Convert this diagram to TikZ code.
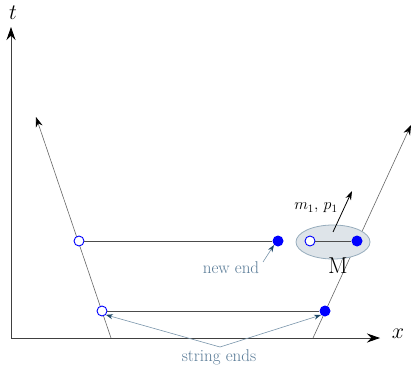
\RequirePackage{fix-cm}
\documentclass[tikz,border=0pt]{standalone}
\usepackage{fontspec}
\usepackage{tikz}
\usepackage{xcolor}
\usetikzlibrary{arrows.meta}

\definecolor{labelblue}{RGB}{88,122,150}
\definecolor{tipblue}{RGB}{30,72,104}
\definecolor{blobgray}{RGB}{222,228,233}
\definecolor{blobedge}{RGB}{150,172,188}

\tikzset{
  openend/.style={circle,draw=blue,fill=white,line width=0.9pt,minimum size=10pt,inner sep=0pt},
  fullend/.style={circle,fill=blue,minimum size=11pt,inner sep=0pt},
  worldline/.style={draw=black!60,line width=0.6pt},
  strline/.style={draw=black!70,line width=1pt},
  pointer/.style={draw=labelblue!80,line width=0.6pt,-{Stealth[length=7pt,width=5pt,color=tipblue]}},
  tag/.style={text=labelblue,font=\fontsize{17}{19}\selectfont}
}

\begin{document}
\begin{tikzpicture}[x=1pt,y=-1pt]
\useasboundingbox (0,0) rectangle (411,366);

% Axes
\coordinate (O) at (11,338);
\coordinate (tend) at (11,27);
\coordinate (xend) at (380,338);
\draw[black!75,line width=0.8pt,-{Stealth[length=13pt,width=9pt,color=black]}] (O) -- (tend);
\draw[black!75,line width=0.8pt,-{Stealth[length=13pt,width=9pt,color=black]}] (O) -- (xend);
\node[font=\fontsize{22}{24}\selectfont] (tlab) at (13,13) {$t$};
\node[font=\fontsize{22}{24}\selectfont] (xlab) at (398,334) {$x$};

% Worldlines of the ends
\coordinate (Lfoot) at (111,338);
\coordinate (Ltop) at (36,117);
\coordinate (Rfoot) at (313,338);
\coordinate (Rtop) at (411,125);
\draw[worldline,-{Stealth[length=10pt,width=7pt,color=black]}] (Lfoot) -- (Ltop);
\draw[worldline,-{Stealth[length=10pt,width=7pt,color=black]}] (Rfoot) -- (Rtop);

% Blob M
\fill[blobgray,draw=blobedge,line width=0.8pt] (333,242) ellipse (37 and 17);

% String ends
\node[openend] (a1) at (102,311) {};
\node[fullend] (b1) at (325,311) {};
\node[openend] (a2) at (79,241) {};
\node[fullend] (b2) at (278,241) {};
\node[openend] (a3) at (310,241) {};
\node[fullend] (b3) at (357,241) {};

% Strings
\draw[strline] (a1) -- (b1);
\draw[strline] (a2) -- (b2);
\draw[strline] (a3) -- (b3);

% Momentum of M
\coordinate (mfrom) at (333,232);
\coordinate (mto) at (352,191);
\draw[black,line width=0.8pt,-{Stealth[length=9pt,width=6pt]}] (mfrom) -- (mto);
\node[font=\fontsize{16}{18}\selectfont] (mp) at (316,208) {$m_1,\, p_1$};
\node[font=\fontsize{23}{25}\selectfont] (M) at (338,266) {M};

% Labels
\node[tag] (newend) at (231,268) {new end};
\coordinate (ne) at (263,262);
\draw[pointer] (ne) -- (b2.south west);
\node[tag] (strends) at (219,357) {string ends};
\coordinate (se) at (220,347);
\draw[pointer] (se) -- (a1.south east);
\draw[pointer] (se) -- (b1.south west);

\end{tikzpicture}
\end{document}
